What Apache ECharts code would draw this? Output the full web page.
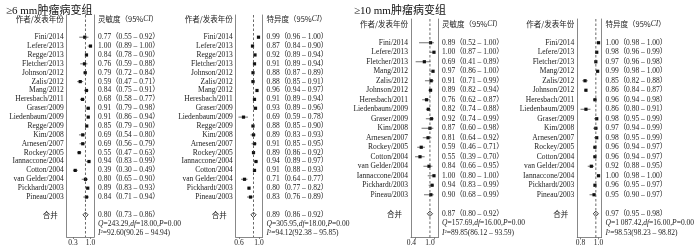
<!DOCTYPE html>
<html>
<head>
<meta charset="utf-8">
<script src="https://cdn.jsdelivr.net/npm/echarts@6/dist/echarts.min.js"></script>
<style>
html, body { margin: 0; padding: 0; background: #fff; }
#main { width: 700px; height: 251px; }
</style>
</head>
<body>
<div id="main"></div>
<script>
// ≥6 mm group
const authors6 = ['Fini/2014', 'Lefere/2013', 'Regge/2013', 'Fletcher/2013', 'Johnson/2012', 'Zalis/2012',
    'Mang/2012', 'Heresbach/2011', 'Graser/2009', 'Liedenbaum/2009', 'Regge/2009', 'Kim/2008',
    'Arnesen/2007', 'Rockey/2005', 'Iannaccone/2004', 'Cotton/2004', 'van Gelder/2004', 'Pickhardt/2003', 'Pineau/2003'];
const sens6 = [0.77, 1.00, 0.84, 0.76, 0.79, 0.59, 0.84, 0.68, 0.91, 0.91, 0.85, 0.69, 0.69, 0.55, 0.94, 0.39, 0.80, 0.89, 0.84];
const sens6Lo = [0.55, 0.89, 0.78, 0.59, 0.72, 0.47, 0.75, 0.58, 0.79, 0.86, 0.79, 0.54, 0.56, 0.47, 0.83, 0.30, 0.65, 0.83, 0.71];
const sens6Hi = [0.92, 1.00, 0.90, 0.88, 0.84, 0.71, 0.91, 0.77, 0.98, 0.94, 0.90, 0.80, 0.79, 0.63, 0.99, 0.49, 0.90, 0.93, 0.94];
const spec6 = [0.99, 0.87, 0.92, 0.91, 0.88, 0.88, 0.96, 0.91, 0.93, 0.69, 0.88, 0.89, 0.91, 0.89, 0.94, 0.91, 0.71, 0.80, 0.83];
const spec6Lo = [0.96, 0.84, 0.89, 0.89, 0.87, 0.85, 0.94, 0.89, 0.89, 0.59, 0.85, 0.83, 0.85, 0.86, 0.89, 0.88, 0.64, 0.77, 0.76];
const spec6Hi = [1.00, 0.90, 0.94, 0.94, 0.89, 0.91, 0.97, 0.94, 0.96, 0.78, 0.90, 0.93, 0.95, 0.92, 0.97, 0.93, 0.77, 0.82, 0.89];
const pooledSens6 = [0.80, 0.73, 0.86];
const pooledSpec6 = [0.89, 0.86, 0.92];
const hetSens6 = ['243.29', '18.00', '0.00', '92.60', '90.26', '94.94'];
const hetSpec6 = ['305.95', '18.00', '0.00', '94.12', '92.38', '95.85'];

// ≥10 mm group
const authors10 = ['Fini/2014', 'Lefere/2013', 'Fletcher/2013', 'Mang/2012', 'Zalis/2012', 'Johnson/2012',
    'Heresbach/2011', 'Liedenbaum/2009', 'Graser/2009', 'Kim/2008', 'Arnesen/2007', 'Rockey/2005',
    'Cotton/2004', 'van Gelder/2004', 'Iannaccone/2004', 'Pickhardt/2003', 'Pineau/2003'];
const sens10 = [0.89, 1.00, 0.69, 0.97, 0.91, 0.89, 0.76, 0.82, 0.92, 0.87, 0.81, 0.59, 0.55, 0.84, 1.00, 0.94, 0.90];
const sens10Lo = [0.52, 0.87, 0.41, 0.86, 0.71, 0.82, 0.62, 0.74, 0.74, 0.60, 0.64, 0.46, 0.39, 0.66, 0.80, 0.83, 0.68];
const sens10Hi = [1.00, 1.00, 0.89, 1.00, 0.99, 0.94, 0.87, 0.88, 0.99, 0.98, 0.92, 0.71, 0.70, 0.95, 1.00, 0.99, 0.99];
const spec10 = [1.00, 0.98, 0.97, 0.99, 0.85, 0.86, 0.96, 0.86, 0.98, 0.97, 0.98, 0.96, 0.96, 0.92, 1.00, 0.96, 0.95];
const spec10Lo = [0.98, 0.96, 0.96, 0.98, 0.82, 0.84, 0.94, 0.80, 0.95, 0.94, 0.95, 0.94, 0.94, 0.88, 0.98, 0.95, 0.90];
const spec10Hi = [1.00, 0.99, 0.98, 1.00, 0.88, 0.87, 0.98, 0.91, 0.99, 0.99, 0.99, 0.97, 0.97, 0.95, 1.00, 0.97, 0.97];
const pooledSens10 = [0.87, 0.80, 0.92];
const pooledSpec10 = [0.97, 0.95, 0.98];
const hetSens10 = ['157.69', '16.00', '0.00', '89.85', '86.12', '93.59'];
const hetSpec10 = ['1 087.42', '16.00', '0.00', '98.53', '98.23', '98.82'];

const tickVals = [[0.3, 1.0], [0.6, 1.0], [0.4, 1.0], [0.8, 1.0]];

const panels = [
    { authors: authors6, est: sens6, lo: sens6Lo, hi: sens6Hi, pooled: pooledSens6, het: hetSens6, head: '灵敏度',
      left: 66.7, width: 27.3, top: 15, height: 222, min: 0.05, max: 1.14, shift: 0 },
    { authors: authors6, est: spec6, lo: spec6Lo, hi: spec6Hi, pooled: pooledSpec6, het: hetSpec6, head: '特异度',
      left: 235.7, width: 26.8, top: 15, height: 222, min: 0.534, max: 1.07, shift: 0 },
    { authors: authors10, est: sens10, lo: sens10Lo, hi: sens10Hi, pooled: pooledSens10, het: hetSens10, head: '灵敏度',
      left: 411, width: 27, top: 19, height: 218.5, min: 0.26, max: 1.13, shift: 8 },
    { authors: authors10, est: spec10, lo: spec10Lo, hi: spec10Hi, pooled: pooledSpec10, het: hetSpec10, head: '特异度',
      left: 577.3, width: 24.2, top: 19, height: 218.5, min: 0.764, max: 1.033, shift: 0 }
];

const FONT = '"Liberation Serif", "Noto Sans CJK SC", serif';
const TXT = '#222';
const AX = '#6a6a6a';
const rich = {
    it: { fontStyle: 'italic', fontFamily: FONT, fontSize: 7.5, color: TXT },
    pool: { fontFamily: '"Noto Sans CJK SC"', fontSize: 7.5, color: TXT, padding: [0, 6, 0, 0] },
    cjk: { fontFamily: '"Noto Sans CJK SC"', fontSize: 7.5, color: TXT }
};

function ciText(e, l, h) {
    return e.toFixed(2) + '（' + l.toFixed(2) + ' – ' + h.toFixed(2) + '）';
}

function renderCI(params, api) {
    const row = api.value(3);
    const p = api.coord([api.value(0), row]);
    const a = api.coord([api.value(1), row]);
    const b = api.coord([api.value(2), row]);
    if (api.value(4) === 1) {
        // pooled estimate: dashed reference line over the whole box + hollow diamond
        const cs = params.coordSys;
        const hw = Math.max((b[0] - a[0]) / 2, 2.6);
        return {
            type: 'group',
            children: [
                { type: 'line', shape: { x1: p[0], y1: cs.y, x2: p[0], y2: cs.y + cs.height },
                  style: { stroke: '#444', lineWidth: 0.8, lineDash: [2.5, 2] } },
                { type: 'polygon',
                  shape: { points: [[p[0] - hw, p[1]], [p[0], p[1] - 2.6], [p[0] + hw, p[1]], [p[0], p[1] + 2.6]] },
                  style: { fill: 'rgba(255,255,255,0)', stroke: '#222', lineWidth: 0.9 } }
            ]
        };
    }
    return {
        type: 'group',
        children: [
            { type: 'line', shape: { x1: a[0], y1: a[1], x2: b[0], y2: b[1] }, style: { stroke: '#333', lineWidth: 0.7 } },
            { type: 'rect', shape: { x: p[0] - 1.6, y: p[1] - 1.6, width: 3.2, height: 3.2 }, style: { fill: '#111' } }
        ]
    };
}

const grid = [], xAxis = [], yAxis = [], series = [];
panels.forEach((pn, k) => {
    const n = pn.authors.length;
    const h = pn.het;
    const leftLabels = ['{cjk|作者/发表年份}', ''].concat(pn.authors, ['', '{pool|合并}', '', '']);
    const rightLabels = ['{cjk|' + pn.head + '（95%}{it|CI}{cjk|）}', '']
        .concat(pn.est.map((v, i) => ciText(v, pn.lo[i], pn.hi[i])),
            ['', ciText(pn.pooled[0], pn.pooled[1], pn.pooled[2]),
             '{it|Q}=' + h[0] + ',{it|df}=' + h[1] + ',{it|P}=' + h[2],
             '{it|I}²=' + h[3] + '(' + h[4] + ' – ' + h[5] + ')']);
    const cats = leftLabels.map((s, i) => 'r' + i);

    grid.push({ left: pn.left, width: pn.width, top: pn.top, height: pn.height, containLabel: false });
    xAxis.push({
        type: 'value', gridIndex: k, min: pn.min, max: pn.max,
        splitLine: { show: false },
        axisLine: { show: true, lineStyle: { color: AX, width: 0.8 } },
        axisTick: { show: true, length: 2, customValues: tickVals[k], lineStyle: { color: AX, width: 0.8 } },
        axisLabel: {
            customValues: tickVals[k], fontSize: 7.5, fontFamily: FONT, color: TXT, margin: 2,
            padding: [0, pn.shift, 0, 0],
            formatter: v => v.toFixed(1)
        }
    });
    yAxis.push({
        type: 'category', gridIndex: k, inverse: true, data: cats,
        axisLine: { show: true, lineStyle: { color: AX, width: 0.8 } },
        axisTick: { show: false },
        splitLine: { show: false },
        axisLabel: { interval: 0, fontSize: 7.5, fontFamily: FONT, color: TXT, margin: 3, rich: rich,
            formatter: (v, i) => leftLabels[i] }
    });
    yAxis.push({
        type: 'category', gridIndex: k, position: 'right', inverse: true, data: cats,
        axisLine: { show: true, lineStyle: { color: AX, width: 0.8 } },
        axisTick: { show: false },
        splitLine: { show: false },
        axisLabel: { interval: 0, fontSize: 7.5, fontFamily: FONT, color: TXT, margin: 4, rich: rich,
            formatter: (v, i) => rightLabels[i] }
    });

    const rows = pn.est.map((v, i) => [v, pn.lo[i], pn.hi[i], i + 2, 0]);
    rows.push([pn.pooled[0], pn.pooled[1], pn.pooled[2], n + 3, 1]);
    series.push({
        type: 'custom', xAxisIndex: k, yAxisIndex: 2 * k,
        renderItem: renderCI, data: rows, silent: true,
        encode: { x: [0, 1, 2], y: 3 }
    });
});

const titleStyle = { fontSize: 11, fontWeight: 'normal', color: '#111', fontFamily: '"Liberation Serif", "Noto Sans CJK SC"' };
const chart = echarts.init(document.getElementById('main'));
chart.setOption({
    animation: false,
    backgroundColor: '#fff',
    title: [
        { text: '≥6 mm肿瘤病变组', left: 1, top: 1, textStyle: titleStyle },
        { text: '≥10 mm肿瘤病变组', left: 349, top: 1, textStyle: titleStyle }
    ],
    grid: grid,
    xAxis: xAxis,
    yAxis: yAxis,
    series: series
});
</script>
</body>
</html>
